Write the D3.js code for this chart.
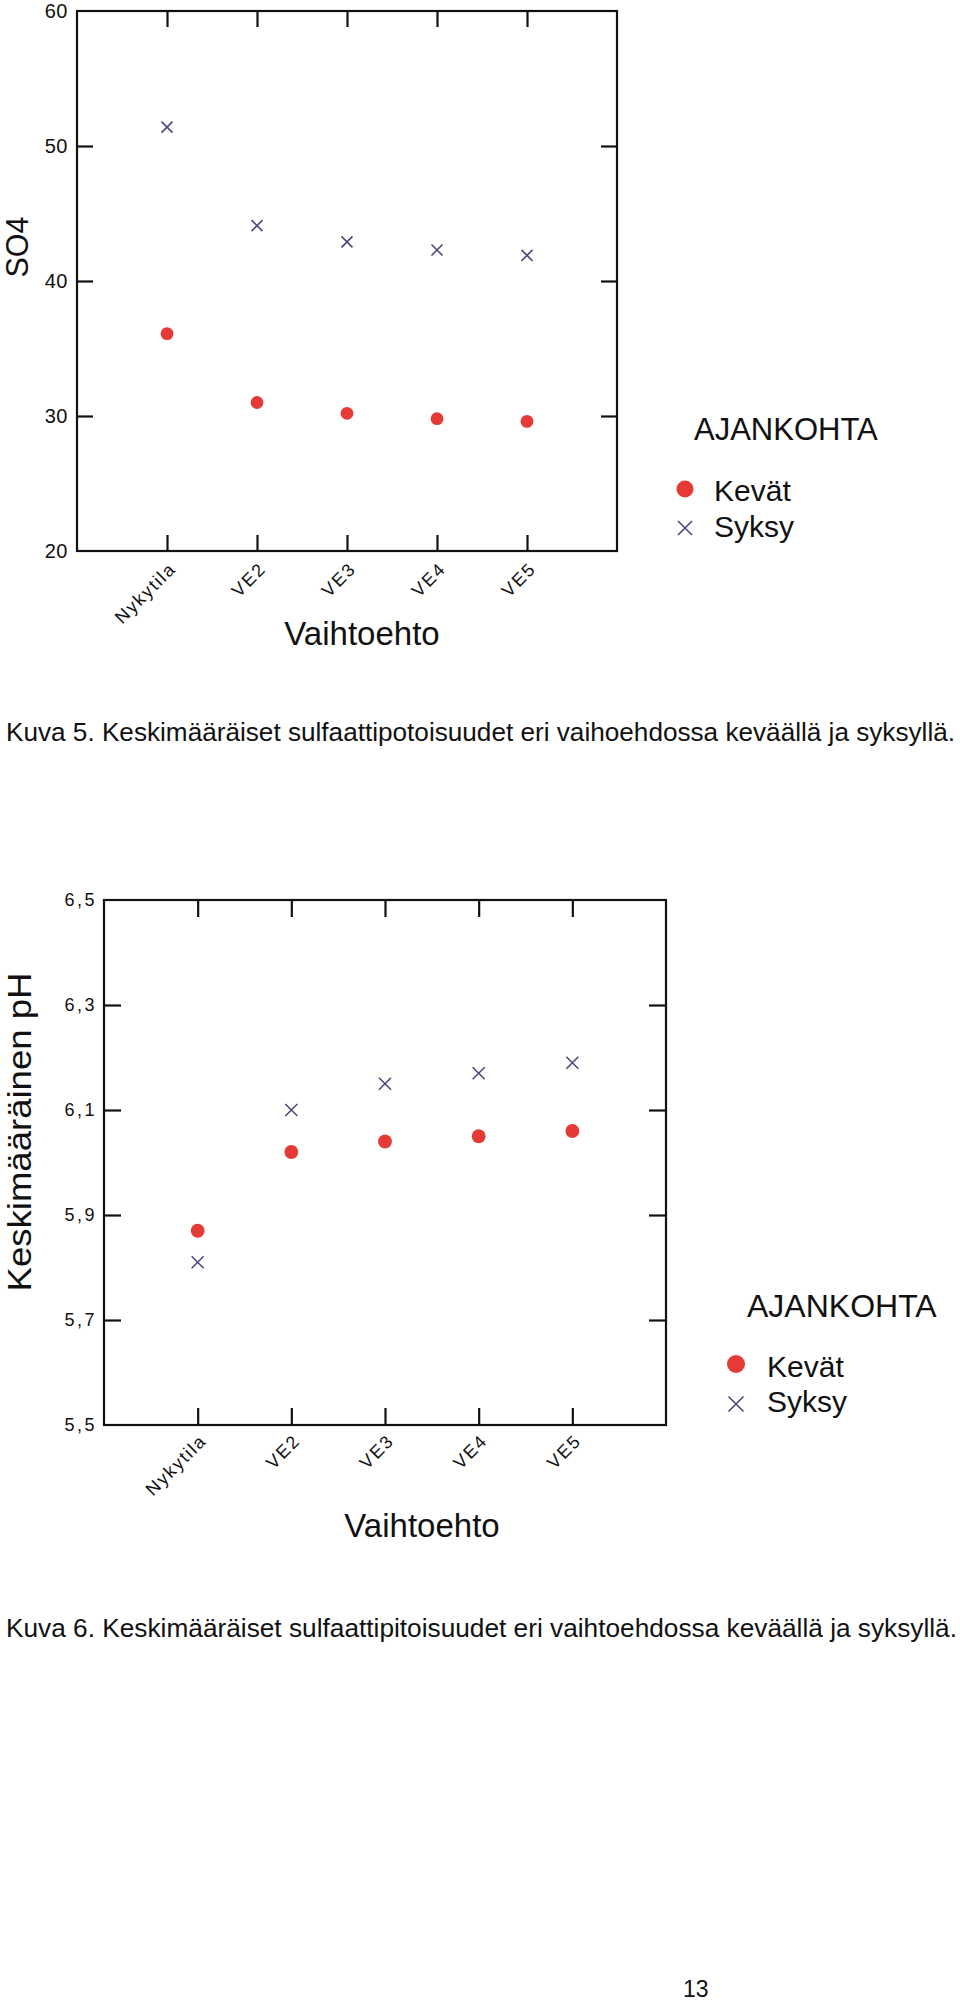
<!DOCTYPE html>
<html>
<head>
<meta charset="utf-8">
<script src="https://cdn.jsdelivr.net/npm/d3@7/dist/d3.min.js"></script>
<style>
  html, body { margin: 0; padding: 0; background: #fff; }
  svg { display: block; }
  text { font-family: "Liberation Sans", Arial, sans-serif; fill: #111; }
</style>
</head>
<body>
<script>
// ---- data ----
const categories = ["Nykytila", "VE2", "VE3", "VE4", "VE5"];
const so4Kevat = [36.1, 31.0, 30.2, 29.8, 29.6];
const so4Syksy = [51.4, 44.1, 42.9, 42.3, 41.9];
const so4Ticks = [20, 30, 40, 50, 60];
const so4TickLabels = ["20", "30", "40", "50", "60"];
const phKevat = [5.87, 6.02, 6.04, 6.05, 6.06];
const phSyksy = [5.81, 6.10, 6.15, 6.17, 6.19];
const phTicks = [5.5, 5.7, 5.9, 6.1, 6.3, 6.5];
const phTickLabels = ["5,5", "5,7", "5,9", "6,1", "6,3", "6,5"];
const seriesNames = ["Kevät", "Syksy"];
const legendTitle = "AJANKOHTA";
const xTitle = "Vaihtoehto";
const caption1 = "Kuva 5. Keskimääräiset sulfaattipotoisuudet eri vaihoehdossa keväällä ja syksyllä.";
const caption2 = "Kuva 6. Keskimääräiset sulfaattipitoisuudet eri vaihtoehdossa keväällä ja syksyllä.";
const pageNumber = "13";

const RED = "#e53a36";
const NAVY = "#4a4a7c";

const svg = d3.select("body").append("svg").attr("width", 960).attr("height", 2001);

function drawChart(c) {
  const g = svg.append("g");
  const x = d3.scaleLinear().domain([0, categories.length + 1]).range([c.left, c.right]);
  const y = d3.scaleLinear().domain(c.domain).range([c.bottom, c.top]);
  const catIdx = categories.map((d, i) => i + 1);

  // frame
  g.append("rect").attr("x", c.left).attr("y", c.top)
    .attr("width", c.right - c.left).attr("height", c.bottom - c.top)
    .attr("fill", "none").attr("stroke", "#111").attr("stroke-width", 2.2);

  const inner = c.ticks.slice(1, -1);
  // left axis with labels
  const ax = g.append("g").attr("transform", `translate(${c.left},0)`)
    .call(d3.axisLeft(y).tickValues(c.ticks).tickSize(0).tickPadding(c.labelPad)
      .tickFormat((d, i) => c.tickLabels[i]));
  ax.select(".domain").remove();
  ax.selectAll("text").attr("font-size", c.tickFont)
    .attr("letter-spacing", c.tickSpacing)
    .attr("font-family", "Liberation Sans, Arial, sans-serif").attr("fill", "#111");
  // inward ticks left
  const al = g.append("g").attr("transform", `translate(${c.left},0)`)
    .call(d3.axisLeft(y).tickValues(inner).tickSize(-c.tickLen).tickFormat(""));
  al.select(".domain").remove();
  // inward ticks right
  const ar = g.append("g").attr("transform", `translate(${c.right},0)`)
    .call(d3.axisRight(y).tickValues(inner).tickSize(-c.tickLen).tickFormat(""));
  ar.select(".domain").remove();
  // top ticks
  const at = g.append("g").attr("transform", `translate(0,${c.top})`)
    .call(d3.axisTop(x).tickValues(catIdx).tickSize(-c.tickLen).tickFormat(""));
  at.select(".domain").remove();
  // bottom ticks
  const ab = g.append("g").attr("transform", `translate(0,${c.bottom})`)
    .call(d3.axisBottom(x).tickValues(catIdx).tickSize(-c.tickLen).tickFormat(""));
  ab.select(".domain").remove();
  g.selectAll(".tick line").attr("stroke", "#111").attr("stroke-width", 2.2);

  // category labels
  g.append("g").selectAll("text").data(categories).join("text")
    .attr("transform", (d, i) => `translate(${x(i + 1) + c.lblDx},${c.bottom + c.lblDy}) rotate(-45)`)
    .attr("text-anchor", "end")
    .attr("font-size", c.catFont)
    .attr("letter-spacing", c.catSpacing)
    .text(d => d);

  // x title
  g.append("text").attr("x", c.xTitleX).attr("y", c.xTitleY)
    .attr("text-anchor", "middle").attr("font-size", c.xTitleFont).text(xTitle);
  // y title
  g.append("text").attr("transform", `translate(${c.yTitleX},${c.yTitleY}) rotate(-90)`)
    .attr("text-anchor", "middle").attr("font-size", c.yTitleFont)
    .attr("textLength", c.yTitleLen).attr("lengthAdjust", "spacingAndGlyphs")
    .text(c.yTitle);

  // Kevät: circles
  g.append("g").selectAll("circle").data(c.kevat).join("circle")
    .attr("cx", (d, i) => x(i + 1)).attr("cy", d => y(d))
    .attr("r", c.dotR).attr("fill", RED);
  // Syksy: crosses
  const s = c.crossH;
  g.append("g").selectAll("path").data(c.syksy).join("path")
    .attr("d", (d, i) => {
      const cx = x(i + 1), cy = y(d);
      return `M${cx - s},${cy - s}L${cx + s},${cy + s}M${cx - s},${cy + s}L${cx + s},${cy - s}`;
    })
    .attr("stroke", NAVY).attr("stroke-width", 1.6).attr("fill", "none");

  // legend
  const L = c.legend;
  g.append("text").attr("x", L.titleX).attr("y", L.titleY).attr("font-size", L.titleFont).text(legendTitle);
  g.append("circle").attr("cx", L.symX).attr("cy", L.dotY).attr("r", L.dotR).attr("fill", RED);
  const h = L.crossH;
  g.append("path")
    .attr("d", `M${L.symX - h},${L.crossY - h}L${L.symX + h},${L.crossY + h}M${L.symX - h},${L.crossY + h}L${L.symX + h},${L.crossY - h}`)
    .attr("stroke", NAVY).attr("stroke-width", 1.6).attr("fill", "none");
  g.append("text").attr("x", L.textX).attr("y", L.kevatY).attr("font-size", L.itemFont).text(seriesNames[0]);
  g.append("text").attr("x", L.textX).attr("y", L.syksyY).attr("font-size", L.itemFont).text(seriesNames[1]);
}

drawChart({
  left: 77, right: 617, top: 11, bottom: 551,
  domain: [20, 60], ticks: so4Ticks, tickLabels: so4TickLabels,
  tickFont: 20, tickSpacing: 0.5, labelPad: 9, tickLen: 16,
  catFont: 18, catSpacing: 1.8, lblDx: 10, lblDy: 19,
  xTitleX: 362, xTitleY: 645, xTitleFont: 33,
  yTitle: "SO4", yTitleX: 28, yTitleY: 247, yTitleFont: 31, yTitleLen: 61,
  kevat: so4Kevat, syksy: so4Syksy, dotR: 6.4, crossH: 5.5,
  legend: { titleX: 694, titleY: 440, titleFont: 31, symX: 685, dotY: 489, dotR: 8.5,
            crossY: 528, crossH: 7, textX: 714, kevatY: 501, syksyY: 537, itemFont: 30 }
});

drawChart({
  left: 104, right: 666, top: 900, bottom: 1425,
  domain: [5.5, 6.5], ticks: phTicks, tickLabels: phTickLabels,
  tickFont: 18, tickSpacing: 2.5, labelPad: 7, tickLen: 17,
  catFont: 18, catSpacing: 1.8, lblDx: 10, lblDy: 17,
  xTitleX: 422, xTitleY: 1537, xTitleFont: 33,
  yTitle: "Keskimääräinen pH", yTitleX: 31, yTitleY: 1132, yTitleFont: 34, yTitleLen: 319,
  kevat: phKevat, syksy: phSyksy, dotR: 6.9, crossH: 6,
  legend: { titleX: 747, titleY: 1317, titleFont: 32, symX: 736, dotY: 1364, dotR: 9,
            crossY: 1404, crossH: 7.5, textX: 767, kevatY: 1377, syksyY: 1412, itemFont: 30 }
});

// captions
svg.append("text").attr("x", 6).attr("y", 741)
  .attr("font-family", "Liberation Sans Narrow, Liberation Sans, Arial, sans-serif")
  .attr("font-size", 25).attr("textLength", 949).attr("lengthAdjust", "spacingAndGlyphs")
  .text(caption1);
svg.append("text").attr("x", 6).attr("y", 1637)
  .attr("font-family", "Liberation Sans Narrow, Liberation Sans, Arial, sans-serif")
  .attr("font-size", 25).attr("textLength", 951).attr("lengthAdjust", "spacingAndGlyphs")
  .text(caption2);
svg.append("text").attr("x", 683).attr("y", 1997).attr("font-size", 23).text(pageNumber);
</script>
</body>
</html>
